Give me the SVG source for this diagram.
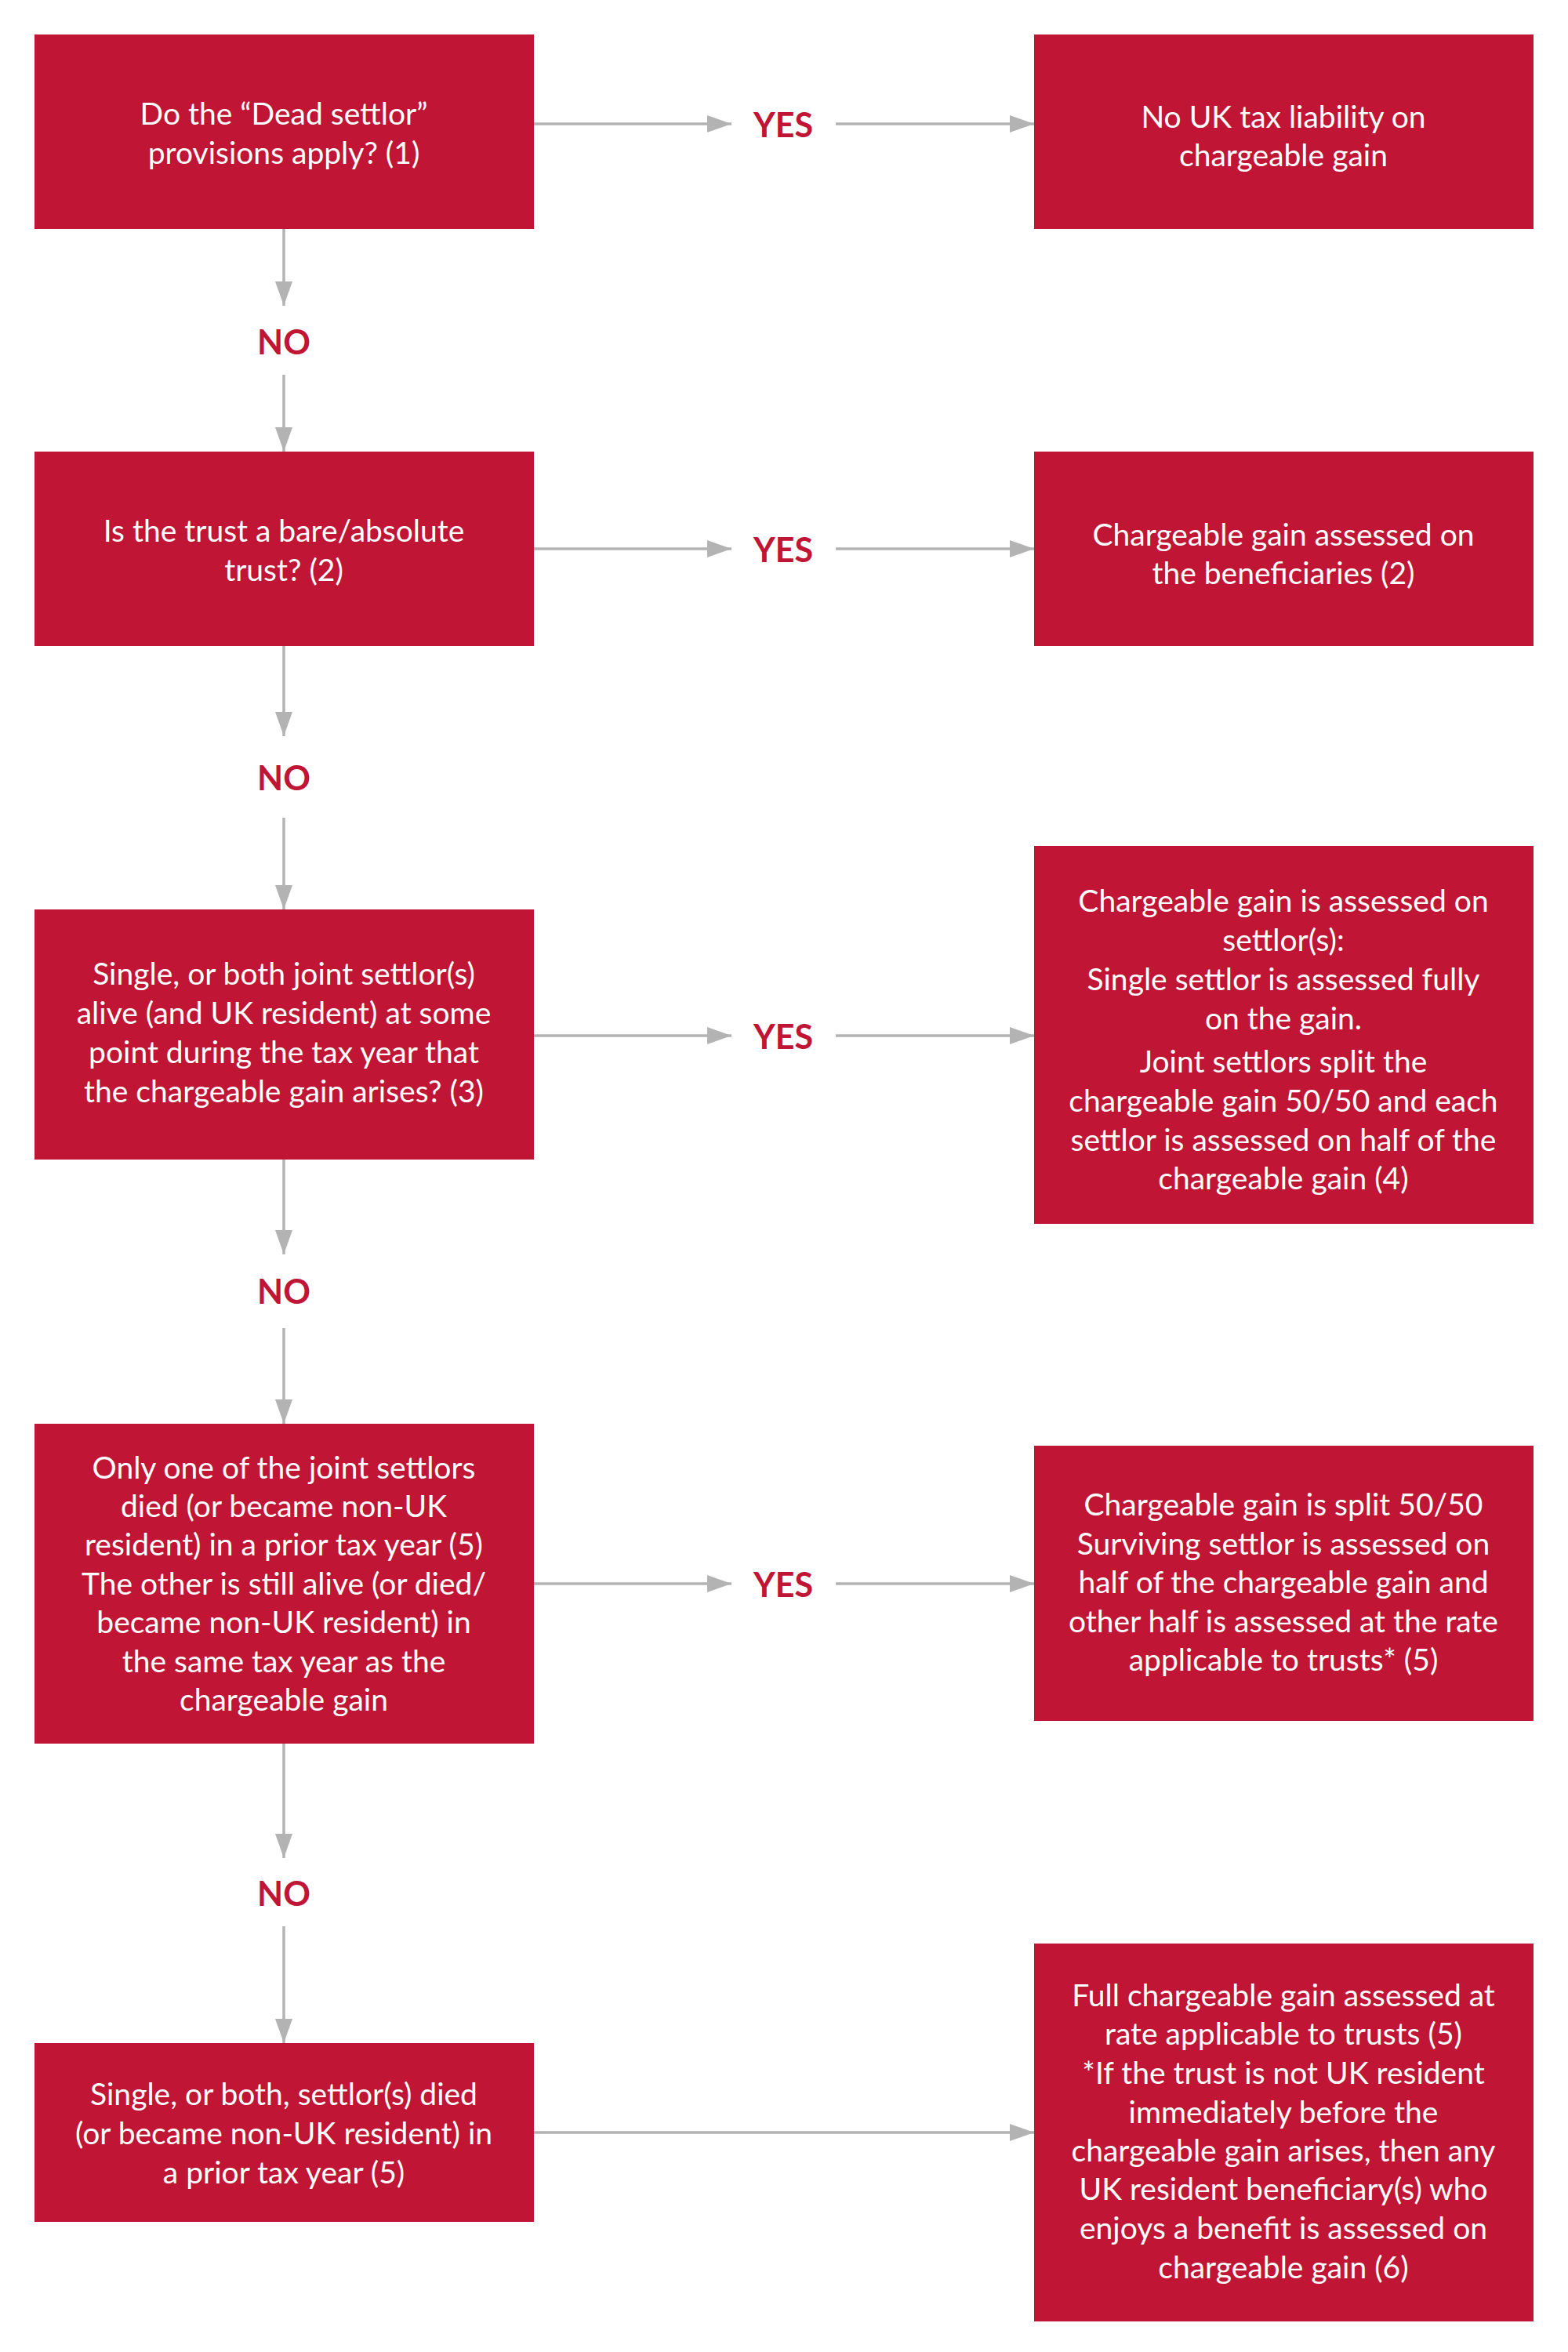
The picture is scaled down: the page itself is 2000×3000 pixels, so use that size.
<svg xmlns="http://www.w3.org/2000/svg" width="2000" height="3000" viewBox="0 0 2000 3000">
<style>
.box{fill:#C01535;}
.t{font-family:Lato,"Noto Sans","Liberation Sans",sans-serif;font-size:39px;fill:#FFFFFF;text-anchor:middle;}
.lbl{font-family:Lato,"Noto Sans","Liberation Sans",sans-serif;font-size:43px;font-weight:bold;fill:#C01535;text-anchor:middle;}
.c{stroke:#B3B3B3;stroke-width:3.5;fill:none;}
.ca{stroke:#B3B3B3;stroke-width:3.5;fill:none;marker-end:url(#ah);}
</style>
<defs>
<marker id="ah" markerUnits="userSpaceOnUse" markerWidth="31" markerHeight="22" refX="31" refY="11" orient="auto">
<path d="M0,0 L31,11 L0,22 z" fill="#B3B3B3"/>
</marker>
</defs>
<rect width="2000" height="3000" fill="#FFFFFF"/>
<g id="connectors">
<line class="ca" x1="681" y1="158" x2="933" y2="158"/>
<line class="ca" x1="1066" y1="158" x2="1319" y2="158"/>
<line class="ca" x1="362" y1="292" x2="362" y2="390"/>
<line class="ca" x1="362" y1="478" x2="362" y2="576"/>
<line class="ca" x1="681" y1="700" x2="933" y2="700"/>
<line class="ca" x1="1066" y1="700" x2="1319" y2="700"/>
<line class="ca" x1="362" y1="824" x2="362" y2="939"/>
<line class="ca" x1="362" y1="1043" x2="362" y2="1160"/>
<line class="ca" x1="681" y1="1321" x2="933" y2="1321"/>
<line class="ca" x1="1066" y1="1321" x2="1319" y2="1321"/>
<line class="ca" x1="362" y1="1479" x2="362" y2="1600"/>
<line class="ca" x1="362" y1="1694" x2="362" y2="1816"/>
<line class="ca" x1="681" y1="2020" x2="933" y2="2020"/>
<line class="ca" x1="1066" y1="2020" x2="1319" y2="2020"/>
<line class="ca" x1="362" y1="2224" x2="362" y2="2370"/>
<line class="ca" x1="362" y1="2457" x2="362" y2="2606"/>
<line class="ca" x1="681" y1="2720" x2="1319" y2="2720"/>
<text class="lbl" x="999" y="175">YES</text>
<text class="lbl" x="362" y="452">NO</text>
<text class="lbl" x="999" y="717">YES</text>
<text class="lbl" x="362" y="1008">NO</text>
<text class="lbl" x="999" y="1338">YES</text>
<text class="lbl" x="362" y="1663">NO</text>
<text class="lbl" x="999" y="2037">YES</text>
<text class="lbl" x="362" y="2431">NO</text>
</g>
<g id="q1">
<rect class="box" x="44" y="44" width="637" height="248"/>
<text class="t" x="362" y="159">Do the “Dead settlor”</text>
<text class="t" x="362" y="209">provisions apply? (1)</text>
</g>
<g id="r1">
<rect class="box" x="1319" y="44" width="637" height="248"/>
<text class="t" x="1637" y="163">No UK tax liability on</text>
<text class="t" x="1637" y="212">chargeable gain</text>
</g>
<g id="q2">
<rect class="box" x="44" y="576" width="637" height="248"/>
<text class="t" x="362" y="691">Is the trust a bare/absolute</text>
<text class="t" x="362" y="741">trust? (2)</text>
</g>
<g id="r2">
<rect class="box" x="1319" y="576" width="637" height="248"/>
<text class="t" x="1637" y="696">Chargeable gain assessed on</text>
<text class="t" x="1637" y="745">the beneficiaries (2)</text>
</g>
<g id="q3">
<rect class="box" x="44" y="1160" width="637" height="319"/>
<text class="t" x="362" y="1256">Single, or both joint settlor(s)</text>
<text class="t" x="362" y="1306">alive (and UK resident) at some</text>
<text class="t" x="362" y="1356">point during the tax year that</text>
<text class="t" x="362" y="1406">the chargeable gain arises? (3)</text>
</g>
<g id="r3">
<rect class="box" x="1319" y="1079" width="637" height="482"/>
<text class="t" x="1637" y="1163">Chargeable gain is assessed on</text>
<text class="t" x="1637" y="1213">settlor(s):</text>
<text class="t" x="1637" y="1263">Single settlor is assessed fully</text>
<text class="t" x="1637" y="1313">on the gain.</text>
<text class="t" x="1637" y="1368">Joint settlors split the</text>
<text class="t" x="1637" y="1418">chargeable gain 50/50 and each</text>
<text class="t" x="1637" y="1468">settlor is assessed on half of the</text>
<text class="t" x="1637" y="1517">chargeable gain (4)</text>
</g>
<g id="q4">
<rect class="box" x="44" y="1816" width="637" height="408"/>
<text class="t" x="362" y="1886">Only one of the joint settlors</text>
<text class="t" x="362" y="1935">died (or became non-UK</text>
<text class="t" x="362" y="1984">resident) in a prior tax year (5)</text>
<text class="t" x="362" y="2034">The other is still alive (or died/</text>
<text class="t" x="362" y="2083">became non-UK resident) in</text>
<text class="t" x="362" y="2133">the same tax year as the</text>
<text class="t" x="362" y="2182">chargeable gain</text>
</g>
<g id="r4">
<rect class="box" x="1319" y="1844" width="637" height="351"/>
<text class="t" x="1637" y="1933">Chargeable gain is split 50/50</text>
<text class="t" x="1637" y="1983">Surviving settlor is assessed on</text>
<text class="t" x="1637" y="2032">half of the chargeable gain and</text>
<text class="t" x="1637" y="2082">other half is assessed at the rate</text>
<text class="t" x="1637" y="2131">applicable to trusts* (5)</text>
</g>
<g id="q5">
<rect class="box" x="44" y="2606" width="637" height="228"/>
<text class="t" x="362" y="2685">Single, or both, settlor(s) died</text>
<text class="t" x="362" y="2735">(or became non-UK resident) in</text>
<text class="t" x="362" y="2785">a prior tax year (5)</text>
</g>
<g id="r5">
<rect class="box" x="1319" y="2479" width="637" height="482"/>
<text class="t" x="1637" y="2559">Full chargeable gain assessed at</text>
<text class="t" x="1637" y="2608">rate applicable to trusts (5)</text>
<text class="t" x="1637" y="2658">*If the trust is not UK resident</text>
<text class="t" x="1637" y="2708">immediately before the</text>
<text class="t" x="1637" y="2757">chargeable gain arises, then any</text>
<text class="t" x="1637" y="2806">UK resident beneficiary(s) who</text>
<text class="t" x="1637" y="2856">enjoys a benefit is assessed on</text>
<text class="t" x="1637" y="2906">chargeable gain (6)</text>
</g>
</svg>
